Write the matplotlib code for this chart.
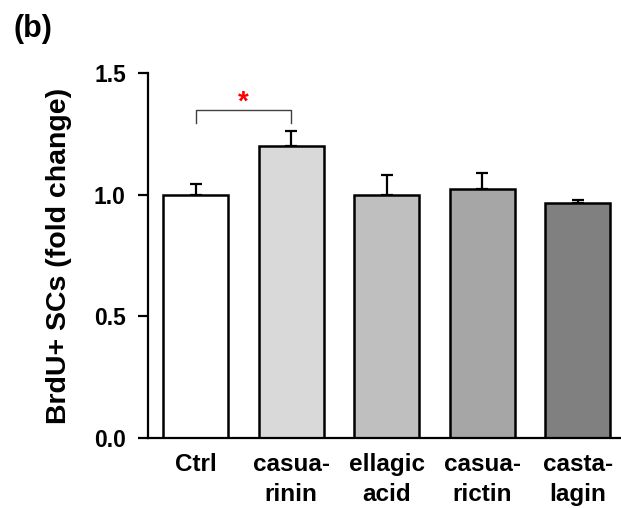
import matplotlib.pyplot as plt

plt.rcParams['font.family'] = ['Liberation Sans', 'DejaVu Sans']
plt.rcParams['font.weight'] = 'bold'

groups = ["Ctrl", "casua-\nrinin", "ellagic\nacid", "casua-\nrictin", "casta-\nlagin"]
means = [1.0, 1.198, 1.0, 1.025, 0.967]
errs = [0.045, 0.065, 0.082, 0.065, 0.013]
colors = ["#ffffff", "#d9d9d9", "#bfbfbf", "#a6a6a6", "#808080"]

fig = plt.figure(figsize=(6.21, 5.08), dpi=100)
ax = fig.add_axes([0.2383, 0.1378, 0.76, 0.7185])

x = range(len(groups))
ax.bar(x, means, width=0.68, color=colors, edgecolor="black", linewidth=1.8, zorder=2)
ax.errorbar(x, means, yerr=[[0] * len(errs), errs], fmt="none", ecolor="black",
            elinewidth=1.6, capsize=4.5, capthick=1.6, zorder=1)

# significance bracket
ax.plot([0, 0, 1, 1], [1.296, 1.346, 1.346, 1.296], color="#404040", linewidth=1.0)
ax.text(0.5, 1.325, "*", color="red", ha="center", va="bottom", fontsize=20)

ax.set_xlim(-0.5, 4.44)
ax.set_ylim(0, 1.5)
ax.set_yticks([0.0, 0.5, 1.0, 1.5])
ax.set_yticklabels(["0.0", "0.5", "1.0", "1.5"])
ax.set_xticks(list(x))
ax.set_xticklabels(groups, linespacing=1.35)
ax.tick_params(axis="y", direction="out", length=7, width=1.6, labelsize=16.5, pad=9)
ax.tick_params(axis="x", length=0, labelsize=17.5, pad=11)
for lbl in ax.get_xticklabels() + ax.get_yticklabels():
    lbl.set_fontweight("bold")

for s in ["top", "right"]:
    ax.spines[s].set_visible(False)
ax.spines["left"].set_linewidth(1.6)
ax.spines["bottom"].set_linewidth(1.6)

ax.set_ylabel("BrdU+ SCs (fold change)", fontsize=20.5, fontweight="bold", labelpad=16)
fig.text(0.021, 0.972, "(b)", fontsize=22, fontweight="bold", va="top")

fig.savefig("out.png", dpi=100)
